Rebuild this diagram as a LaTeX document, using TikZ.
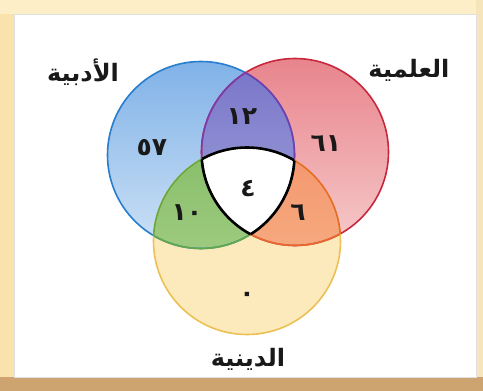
\documentclass[tikz,border=0pt]{standalone}
\usepackage{fontspec}
\TeXXeTstate=1
\newfontfamily\arabicfont[Script=Arabic]{DejaVu Sans}
\definecolor{frameyel}{RGB}{250,226,172}
\definecolor{frametop}{RGB}{253,238,200}
\definecolor{framebot}{RGB}{205,163,112}
\definecolor{frameright}{RGB}{246,228,186}
\definecolor{bluetop}{RGB}{128,178,232}
\definecolor{bluebot}{RGB}{205,225,245}
\definecolor{blueline}{RGB}{40,125,205}
\definecolor{redtop}{RGB}{232,132,140}
\definecolor{redbot}{RGB}{246,202,202}
\definecolor{redline}{RGB}{200,40,62}
\definecolor{yelfill}{RGB}{253,234,188}
\definecolor{yelline}{RGB}{236,192,84}
\definecolor{purtop}{RGB}{120,115,200}
\definecolor{purbot}{RGB}{160,165,220}
\definecolor{purline}{RGB}{120,60,175}
\definecolor{grntop}{RGB}{135,190,105}
\definecolor{grnbot}{RGB}{175,212,145}
\definecolor{grnline}{RGB}{100,168,70}
\definecolor{orgtop}{RGB}{244,150,110}
\definecolor{orgbot}{RGB}{248,185,140}
\definecolor{orgline}{RGB}{232,105,45}
\begin{document}
\begin{tikzpicture}[x=1pt,y=-1pt,
  num/.style={font=\arabicfont\bfseries\fontsize{25}{25}\selectfont, text=black!90},
  lab/.style={font=\arabicfont\bfseries\fontsize{24}{24}\selectfont, text=black!90},
  ring/.style={line width=1.6pt}]
\def\R{93.5pt}
\useasboundingbox (0,0) rectangle (483,391);
% frame
\fill[frameyel] (0,0) rectangle (483,391);
\fill[frametop] (0,0) rectangle (483,14);
\fill[frameright] (476,0) rectangle (483,391);
\fill[framebot] (0,377) rectangle (483,391);
\fill[white] (14,14) rectangle (476,377);
\draw[black!12, line width=0.8pt] (14,14) rectangle (476,377);
% centres
\coordinate (A) at (201,155);
\coordinate (S) at (295,152);
\coordinate (D) at (247,241);
% circles
\fill[yelfill] (D) circle (\R);
\shade[top color=bluetop, bottom color=bluebot] (A) circle (\R);
\shade[top color=redtop, bottom color=redbot] (S) circle (\R);
\begin{scope}
  \clip (D) circle (\R);
  \fill[yelfill] (A) circle (\R);
  \fill[yelfill] (S) circle (\R);
\end{scope}
% pairwise intersections
\begin{scope}
  \clip (A) circle (\R);
  \shade[top color=purtop, bottom color=purbot] (S) circle (\R);
\end{scope}
\begin{scope}
  \clip (A) circle (\R);
  \shade[top color=grntop, bottom color=grnbot] (D) circle (\R);
\end{scope}
\begin{scope}
  \clip (S) circle (\R);
  \shade[top color=orgtop, bottom color=orgbot] (D) circle (\R);
\end{scope}
% centre
\begin{scope}
  \clip (A) circle (\R);
  \clip (S) circle (\R);
  \fill[white] (D) circle (\R);
\end{scope}
% outlines
\draw[ring, blueline] (A) circle (\R);
\draw[ring, redline] (S) circle (\R);
\draw[ring, yelline] (D) circle (\R);
\begin{scope}\clip (S) circle (\R); \draw[ring, purline] (A) circle (\R);\end{scope}
\begin{scope}\clip (A) circle (\R); \draw[ring, purline] (S) circle (\R);\end{scope}
\begin{scope}\clip (D) circle (\R); \draw[ring, grnline] (A) circle (\R);\end{scope}
\begin{scope}\clip (A) circle (\R); \draw[ring, grnline] (D) circle (\R);\end{scope}
\begin{scope}\clip (D) circle (\R); \draw[ring, orgline] (S) circle (\R);\end{scope}
\begin{scope}\clip (S) circle (\R); \draw[ring, orgline] (D) circle (\R);\end{scope}
\begin{scope}\clip (A) circle (\R); \clip (S) circle (\R); \draw[black, line width=2.6pt] (D) circle (\R);\end{scope}
\begin{scope}\clip (S) circle (\R); \clip (D) circle (\R); \draw[black, line width=2.6pt] (A) circle (\R);\end{scope}
\begin{scope}\clip (A) circle (\R); \clip (D) circle (\R); \draw[black, line width=2.6pt] (S) circle (\R);\end{scope}
% labels
\node[lab] (la) at (83,72) {\beginR الأدبية\endR};
\node[lab] (ls) at (409,70) {\beginR العلمية\endR};
\node[lab] (ld) at (248,359) {\beginR الدينية\endR};
% numbers
\node[num] (n57) at (152,148) {٥٧};
\node[num] (n12) at (242,117) {١٢};
\node[num] (n61) at (326,144) {٦١};
\node[num] (n10) at (187,213) {١٠};
\node[num] (n4) at (248,189) {٤};
\node[num] (n6) at (298,213) {٦};
\node[num] (n0) at (247,297) {٠};
\end{tikzpicture}
\end{document}
